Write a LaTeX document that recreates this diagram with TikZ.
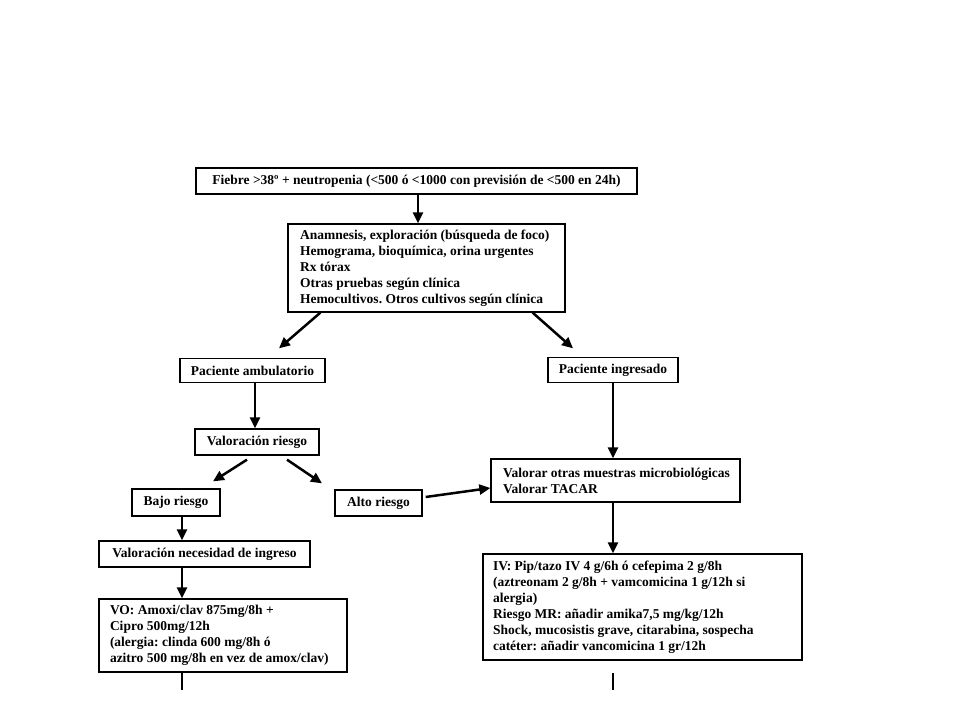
\documentclass[tikz,border=0pt]{standalone}
\usepackage{fontspec}
\setmainfont{Liberation Serif}
\usetikzlibrary{arrows.meta,calc}
\frenchspacing
\begin{document}
\begin{tikzpicture}[x=1pt,y=-1pt,
  box/.style={draw=black, line width=1.3pt, inner sep=0pt, font=\fontsize{13.5}{16}\selectfont\bfseries, anchor=center},
  cbox/.style={box, align=center},
  lbox/.style={box, align=left},
  arr/.style={line width=2.5pt, -{Triangle[length=11pt,width=10pt]}},
  plain/.style={line width=2.5pt}]
\useasboundingbox (0,0) rectangle (960,720);
\fill[white] (0,0) rectangle (960,720);

\node[cbox, minimum width=441pt, minimum height=26pt] (n1) at (416.5,181) {Fiebre >38º + neutropenia (<500 ó <1000 con previsión de <500 en 24h)};
\node[lbox, minimum width=277pt, minimum height=88pt] (n2) at (426.5,268) {\makebox[253pt][l]{Anamnesis, exploración (búsqueda de foco)}\\Hemograma, bioquímica, orina urgentes\\Rx tórax\\Otras pruebas según clínica\\Hemocultivos. Otros cultivos según clínica};
\node[cbox, minimum width=145pt, minimum height=24pt] (n3) at (252.5,370.5) {Paciente ambulatorio};
\node[cbox, minimum width=130pt, minimum height=25pt] (n4) at (613,370) {Paciente ingresado};
\node[cbox, minimum width=124pt, minimum height=26pt] (n5) at (257,442) {Valoración riesgo};
\node[cbox, minimum width=88pt, minimum height=27pt] (n6) at (176,502.5) {Bajo riesgo};
\node[cbox, minimum width=87pt, minimum height=26pt] (n7) at (378.5,503) {Alto riesgo};
\node[lbox, minimum width=249pt, minimum height=43pt] (n8) at (615.5,480.5) {\makebox[225pt][l]{Valorar otras muestras microbiológicas}\\Valorar TACAR};
\node[cbox, minimum width=211pt, minimum height=26pt] (n9) at (204.5,554) {Valoración necesidad de ingreso};
\node[lbox, minimum width=248pt, minimum height=73pt] (n10) at (223,635.5) {\makebox[226pt][l]{VO: Amoxi/clav 875mg/8h +}\\Cipro 500mg/12h\\(alergia: clinda 600 mg/8h ó\\azitro 500 mg/8h en vez de amox/clav)};
\node[lbox, minimum width=319pt, minimum height=106pt] (n11) at (642.5,607) {\makebox[299pt][l]{IV: Pip/tazo IV 4 g/6h ó cefepima 2 g/8h}\\(aztreonam 2 g/8h + vamcomicina 1 g/12h si\\alergia)\\Riesgo MR: añadir amika7,5 mg/kg/12h\\Shock, mucosistis grave, citarabina, sospecha\\catéter: añadir vancomicina 1 gr/12h};

\coordinate (e1) at (182,690);
\coordinate (e2a) at (613,673);
\coordinate (e2b) at (613,690);

\draw[arr] ([xshift=1.5pt]n1.south) -- ([xshift=-8.5pt]n2.north);
\draw[arr] ([xshift=33pt]n2.south west) -- ([xshift=26.5pt,yshift=9.5pt]n3.north);
\draw[arr] ([xshift=-33pt]n2.south east) -- ([xshift=-40pt,yshift=8.5pt]n4.north);
\draw[arr] ([xshift=2.5pt]n3.south) -- ([xshift=-2pt]n5.north);
\draw[arr] (n4.south) -- (n8.north -| n4.south);
\draw[arr] ([xshift=-10pt,yshift=-4pt]n5.south) -- ([xshift=37pt,yshift=7pt]n6.north);
\draw[arr] ([xshift=30pt,yshift=-4pt]n5.south) -- ([xshift=-56.5pt,yshift=6pt]n7.north);
\draw[arr] ([xshift=3pt,yshift=6pt]n7.east) -- ([yshift=-7.5pt]n8.west);
\draw[arr] ([xshift=6pt]n6.south) -- ([xshift=-22.5pt]n9.north);
\draw[arr] ([xshift=-22.5pt]n9.south) -- ([xshift=-41pt]n10.north);
\draw[arr] ([xshift=-2.5pt]n8.south) -- ([xshift=-29.5pt]n11.north);
\draw[plain] ([xshift=-41pt]n10.south) -- (e1);
\draw[plain] (e2a) -- (e2b);
\end{tikzpicture}
\end{document}
